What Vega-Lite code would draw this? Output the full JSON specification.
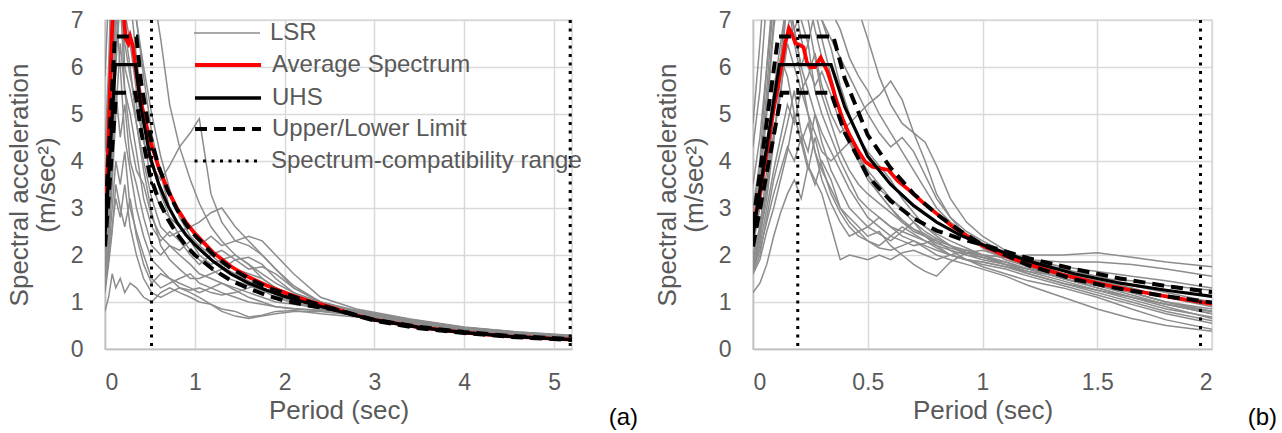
{
"$schema": "https://vega.github.io/schema/vega-lite/v6.json",
"background": "white",
"padding": {"left": 5, "top": 8, "right": 5, "bottom": 0},
"config": {
  "font": "Liberation Sans",
  "view": {"stroke": "#d9d9d9", "strokeWidth": 1.5},
  "axis": {"labelFont": "Liberation Sans", "labelFontSize": 23, "labelColor": "#595959", "titleFont": "Liberation Sans", "titleFontSize": 26, "titleFontWeight": "normal", "titleColor": "#595959", "gridColor": "#d9d9d9", "gridWidth": 1.5, "domainColor": "#bfbfbf", "domainWidth": 1.5, "ticks": false, "labelPadding": 22},
  "axisX": {"titlePadding": 3},
  "axisY": {"titlePadding": 11, "titleLineHeight": 27},
  "legend": {"orient": "none", "legendX": 88, "title": null, "symbolType": "stroke", "symbolSize": 4356, "labelFontSize": 24, "labelColor": "#595959", "labelFont": "Liberation Sans", "labelFontWeight": "normal", "labelOffset": 9, "labelLimit": 0, "clipHeight": 22, "padding": 0},
  "title": {"font": "Liberation Sans", "fontSize": 24, "fontWeight": "normal", "color": "#000000"}
},
"datasets": {
"lsrA": [
{"c":1,"T":0,"S":3},{"c":1,"T":0.04,"S":5.5},{"c":1,"T":0.08,"S":8},{"c":1,"T":0.12,"S":9},{"c":1,"T":0.17,"S":9},{"c":1,"T":0.22,"S":8.5},{"c":1,"T":0.28,"S":9},{"c":1,"T":0.35,"S":9.5},{"c":1,"T":0.43,"S":8.5},{"c":1,"T":0.52,"S":7.8},{"c":1,"T":0.62,"S":6.6},{"c":1,"T":0.72,"S":5.2},{"c":1,"T":0.83,"S":4.3},{"c":1,"T":0.95,"S":3.6},{"c":1,"T":1.05,"S":3.1},{"c":1,"T":1.18,"S":2.6},{"c":1,"T":1.3,"S":2.3},{"c":1,"T":1.45,"S":2},{"c":1,"T":1.6,"S":1.8},{"c":1,"T":1.75,"S":1.6},{"c":1,"T":1.9,"S":1.4},{"c":1,"T":2.1,"S":1.2},{"c":1,"T":2.4,"S":1},{"c":1,"T":2.8,"S":0.8},{"c":1,"T":3.4,"S":0.6},{"c":1,"T":4,"S":0.46},{"c":1,"T":4.6,"S":0.36},{"c":1,"T":5.2,"S":0.29},
{"c":2,"T":0,"S":2},{"c":2,"T":0.04,"S":3},{"c":2,"T":0.08,"S":4.5},{"c":2,"T":0.12,"S":6},{"c":2,"T":0.17,"S":7.5},{"c":2,"T":0.22,"S":6.5},{"c":2,"T":0.28,"S":5.8},{"c":2,"T":0.35,"S":5.2},{"c":2,"T":0.43,"S":4.4},{"c":2,"T":0.52,"S":3.9},{"c":2,"T":0.62,"S":3.6},{"c":2,"T":0.72,"S":3.9},{"c":2,"T":0.83,"S":4.3},{"c":2,"T":0.95,"S":4.6},{"c":2,"T":1.05,"S":4.9},{"c":2,"T":1.18,"S":3.3},{"c":2,"T":1.3,"S":2.7},{"c":2,"T":1.45,"S":2.3},{"c":2,"T":1.6,"S":2.2},{"c":2,"T":1.75,"S":2},{"c":2,"T":1.9,"S":1.7},{"c":2,"T":2.1,"S":1.3},{"c":2,"T":2.4,"S":1},{"c":2,"T":2.8,"S":0.82},{"c":2,"T":3.4,"S":0.62},{"c":2,"T":4,"S":0.44},{"c":2,"T":4.6,"S":0.33},{"c":2,"T":5.2,"S":0.26},
{"c":3,"T":0,"S":1.7},{"c":3,"T":0.04,"S":2.8},{"c":3,"T":0.08,"S":4.5},{"c":3,"T":0.12,"S":7.5},{"c":3,"T":0.17,"S":8},{"c":3,"T":0.22,"S":6},{"c":3,"T":0.28,"S":5.5},{"c":3,"T":0.35,"S":4.8},{"c":3,"T":0.43,"S":4},{"c":3,"T":0.52,"S":3.2},{"c":3,"T":0.62,"S":2.6},{"c":3,"T":0.72,"S":2.4},{"c":3,"T":0.83,"S":2.5},{"c":3,"T":0.95,"S":2.6},{"c":3,"T":1.05,"S":2.7},{"c":3,"T":1.18,"S":2.9},{"c":3,"T":1.3,"S":3},{"c":3,"T":1.45,"S":2.6},{"c":3,"T":1.6,"S":2.3},{"c":3,"T":1.75,"S":2},{"c":3,"T":1.9,"S":1.7},{"c":3,"T":2.1,"S":1.35},{"c":3,"T":2.4,"S":1},{"c":3,"T":2.8,"S":0.8},{"c":3,"T":3.4,"S":0.6},{"c":3,"T":4,"S":0.44},{"c":3,"T":4.6,"S":0.33},{"c":3,"T":5.2,"S":0.25},
{"c":4,"T":0,"S":1.5},{"c":4,"T":0.04,"S":2.2},{"c":4,"T":0.08,"S":3.5},{"c":4,"T":0.12,"S":5},{"c":4,"T":0.17,"S":6.5},{"c":4,"T":0.22,"S":5.5},{"c":4,"T":0.28,"S":4.5},{"c":4,"T":0.35,"S":3.8},{"c":4,"T":0.43,"S":3.5},{"c":4,"T":0.52,"S":2.8},{"c":4,"T":0.62,"S":2.4},{"c":4,"T":0.72,"S":2.2},{"c":4,"T":0.83,"S":2.1},{"c":4,"T":0.95,"S":2.3},{"c":4,"T":1.05,"S":2.2},{"c":4,"T":1.18,"S":2.4},{"c":4,"T":1.3,"S":2.2},{"c":4,"T":1.45,"S":2.3},{"c":4,"T":1.6,"S":2.4},{"c":4,"T":1.75,"S":2.3},{"c":4,"T":1.9,"S":2},{"c":4,"T":2.1,"S":1.6},{"c":4,"T":2.4,"S":1.1},{"c":4,"T":2.8,"S":0.85},{"c":4,"T":3.4,"S":0.64},{"c":4,"T":4,"S":0.47},{"c":4,"T":4.6,"S":0.36},{"c":4,"T":5.2,"S":0.28},
{"c":5,"T":0,"S":0.8},{"c":5,"T":0.04,"S":1.1},{"c":5,"T":0.08,"S":1.6},{"c":5,"T":0.12,"S":1.3},{"c":5,"T":0.17,"S":1.5},{"c":5,"T":0.22,"S":1.2},{"c":5,"T":0.28,"S":1.4},{"c":5,"T":0.35,"S":1.3},{"c":5,"T":0.43,"S":1.1},{"c":5,"T":0.52,"S":1},{"c":5,"T":0.62,"S":1.2},{"c":5,"T":0.72,"S":1.3},{"c":5,"T":0.83,"S":1.2},{"c":5,"T":0.95,"S":1.1},{"c":5,"T":1.05,"S":1},{"c":5,"T":1.18,"S":0.95},{"c":5,"T":1.3,"S":0.85},{"c":5,"T":1.45,"S":0.8},{"c":5,"T":1.6,"S":0.68},{"c":5,"T":1.75,"S":0.72},{"c":5,"T":1.9,"S":0.8},{"c":5,"T":2.1,"S":0.82},{"c":5,"T":2.4,"S":0.75},{"c":5,"T":2.8,"S":0.68},{"c":5,"T":3.4,"S":0.55},{"c":5,"T":4,"S":0.38},{"c":5,"T":4.6,"S":0.28},{"c":5,"T":5.2,"S":0.2},
{"c":6,"T":0,"S":1.2},{"c":6,"T":0.04,"S":1.8},{"c":6,"T":0.08,"S":2.5},{"c":6,"T":0.12,"S":3.5},{"c":6,"T":0.17,"S":3},{"c":6,"T":0.22,"S":2.6},{"c":6,"T":0.28,"S":3.2},{"c":6,"T":0.35,"S":2.4},{"c":6,"T":0.43,"S":1.8},{"c":6,"T":0.52,"S":1.4},{"c":6,"T":0.62,"S":1.6},{"c":6,"T":0.72,"S":1.5},{"c":6,"T":0.83,"S":1.3},{"c":6,"T":0.95,"S":1.2},{"c":6,"T":1.05,"S":1.1},{"c":6,"T":1.18,"S":0.95},{"c":6,"T":1.3,"S":0.8},{"c":6,"T":1.45,"S":0.7},{"c":6,"T":1.6,"S":0.65},{"c":6,"T":1.75,"S":0.7},{"c":6,"T":1.9,"S":0.75},{"c":6,"T":2.1,"S":0.8},{"c":6,"T":2.4,"S":0.8},{"c":6,"T":2.8,"S":0.72},{"c":6,"T":3.4,"S":0.56},{"c":6,"T":4,"S":0.4},{"c":6,"T":4.6,"S":0.29},{"c":6,"T":5.2,"S":0.21},
{"c":7,"T":0,"S":2.2},{"c":7,"T":0.04,"S":3.5},{"c":7,"T":0.08,"S":6},{"c":7,"T":0.12,"S":8},{"c":7,"T":0.17,"S":7.5},{"c":7,"T":0.22,"S":6.8},{"c":7,"T":0.28,"S":6},{"c":7,"T":0.35,"S":4.8},{"c":7,"T":0.43,"S":3.8},{"c":7,"T":0.52,"S":2.9},{"c":7,"T":0.62,"S":2.2},{"c":7,"T":0.72,"S":1.9},{"c":7,"T":0.83,"S":1.7},{"c":7,"T":0.95,"S":1.5},{"c":7,"T":1.05,"S":1.5},{"c":7,"T":1.18,"S":1.6},{"c":7,"T":1.3,"S":1.7},{"c":7,"T":1.45,"S":1.9},{"c":7,"T":1.6,"S":1.95},{"c":7,"T":1.75,"S":1.8},{"c":7,"T":1.9,"S":1.5},{"c":7,"T":2.1,"S":1.2},{"c":7,"T":2.4,"S":0.95},{"c":7,"T":2.8,"S":0.82},{"c":7,"T":3.4,"S":0.63},{"c":7,"T":4,"S":0.46},{"c":7,"T":4.6,"S":0.35},{"c":7,"T":5.2,"S":0.27},
{"c":8,"T":0,"S":1.8},{"c":8,"T":0.04,"S":2.6},{"c":8,"T":0.08,"S":3.8},{"c":8,"T":0.12,"S":5.5},{"c":8,"T":0.17,"S":4.5},{"c":8,"T":0.22,"S":5.2},{"c":8,"T":0.28,"S":4},{"c":8,"T":0.35,"S":3.5},{"c":8,"T":0.43,"S":2.8},{"c":8,"T":0.52,"S":2.2},{"c":8,"T":0.62,"S":2},{"c":8,"T":0.72,"S":2.2},{"c":8,"T":0.83,"S":2},{"c":8,"T":0.95,"S":1.8},{"c":8,"T":1.05,"S":1.6},{"c":8,"T":1.18,"S":1.5},{"c":8,"T":1.3,"S":1.4},{"c":8,"T":1.45,"S":1.3},{"c":8,"T":1.6,"S":1.2},{"c":8,"T":1.75,"S":1.1},{"c":8,"T":1.9,"S":1},{"c":8,"T":2.1,"S":0.95},{"c":8,"T":2.4,"S":0.88},{"c":8,"T":2.8,"S":0.75},{"c":8,"T":3.4,"S":0.58},{"c":8,"T":4,"S":0.42},{"c":8,"T":4.6,"S":0.31},{"c":8,"T":5.2,"S":0.23},
{"c":9,"T":0,"S":2.5},{"c":9,"T":0.04,"S":4},{"c":9,"T":0.08,"S":7.5},{"c":9,"T":0.12,"S":9},{"c":9,"T":0.17,"S":8},{"c":9,"T":0.22,"S":7.2},{"c":9,"T":0.28,"S":6.5},{"c":9,"T":0.35,"S":5.5},{"c":9,"T":0.43,"S":4.5},{"c":9,"T":0.52,"S":3.5},{"c":9,"T":0.62,"S":3},{"c":9,"T":0.72,"S":2.8},{"c":9,"T":0.83,"S":2.6},{"c":9,"T":0.95,"S":2.3},{"c":9,"T":1.05,"S":2},{"c":9,"T":1.18,"S":1.8},{"c":9,"T":1.3,"S":1.9},{"c":9,"T":1.45,"S":2},{"c":9,"T":1.6,"S":1.8},{"c":9,"T":1.75,"S":1.5},{"c":9,"T":1.9,"S":1.3},{"c":9,"T":2.1,"S":1.1},{"c":9,"T":2.4,"S":0.9},{"c":9,"T":2.8,"S":0.78},{"c":9,"T":3.4,"S":0.6},{"c":9,"T":4,"S":0.45},{"c":9,"T":4.6,"S":0.34},{"c":9,"T":5.2,"S":0.26},
{"c":10,"T":0,"S":1.3},{"c":10,"T":0.04,"S":2},{"c":10,"T":0.08,"S":3},{"c":10,"T":0.12,"S":4},{"c":10,"T":0.17,"S":3.5},{"c":10,"T":0.22,"S":4.2},{"c":10,"T":0.28,"S":3},{"c":10,"T":0.35,"S":2.5},{"c":10,"T":0.43,"S":2},{"c":10,"T":0.52,"S":1.5},{"c":10,"T":0.62,"S":1.3},{"c":10,"T":0.72,"S":1.4},{"c":10,"T":0.83,"S":1.5},{"c":10,"T":0.95,"S":1.6},{"c":10,"T":1.05,"S":1.4},{"c":10,"T":1.18,"S":1.3},{"c":10,"T":1.3,"S":1.2},{"c":10,"T":1.45,"S":1.1},{"c":10,"T":1.6,"S":1},{"c":10,"T":1.75,"S":0.95},{"c":10,"T":1.9,"S":0.9},{"c":10,"T":2.1,"S":0.85},{"c":10,"T":2.4,"S":0.82},{"c":10,"T":2.8,"S":0.72},{"c":10,"T":3.4,"S":0.55},{"c":10,"T":4,"S":0.4},{"c":10,"T":4.6,"S":0.3},{"c":10,"T":5.2,"S":0.22},
{"c":11,"T":0,"S":4.2},{"c":11,"T":0.04,"S":6},{"c":11,"T":0.08,"S":8.5},{"c":11,"T":0.12,"S":9},{"c":11,"T":0.17,"S":10},{"c":11,"T":0.22,"S":9},{"c":11,"T":0.28,"S":8},{"c":11,"T":0.35,"S":7},{"c":11,"T":0.43,"S":5.8},{"c":11,"T":0.52,"S":4.6},{"c":11,"T":0.62,"S":3.7},{"c":11,"T":0.72,"S":3},{"c":11,"T":0.83,"S":2.6},{"c":11,"T":0.95,"S":2.3},{"c":11,"T":1.05,"S":2.1},{"c":11,"T":1.18,"S":1.9},{"c":11,"T":1.3,"S":1.75},{"c":11,"T":1.45,"S":1.6},{"c":11,"T":1.6,"S":1.45},{"c":11,"T":1.75,"S":1.3},{"c":11,"T":1.9,"S":1.15},{"c":11,"T":2.1,"S":1},{"c":11,"T":2.4,"S":0.85},{"c":11,"T":2.8,"S":0.72},{"c":11,"T":3.4,"S":0.56},{"c":11,"T":4,"S":0.42},{"c":11,"T":4.6,"S":0.32},{"c":11,"T":5.2,"S":0.24},
{"c":12,"T":0,"S":1.6},{"c":12,"T":0.04,"S":2.4},{"c":12,"T":0.08,"S":4},{"c":12,"T":0.12,"S":6.5},{"c":12,"T":0.17,"S":7.5},{"c":12,"T":0.22,"S":5.5},{"c":12,"T":0.28,"S":5},{"c":12,"T":0.35,"S":4.2},{"c":12,"T":0.43,"S":3.2},{"c":12,"T":0.52,"S":2.6},{"c":12,"T":0.62,"S":2.3},{"c":12,"T":0.72,"S":2.5},{"c":12,"T":0.83,"S":2.3},{"c":12,"T":0.95,"S":2},{"c":12,"T":1.05,"S":1.8},{"c":12,"T":1.18,"S":2},{"c":12,"T":1.3,"S":2.1},{"c":12,"T":1.45,"S":1.9},{"c":12,"T":1.6,"S":1.7},{"c":12,"T":1.75,"S":1.75},{"c":12,"T":1.9,"S":1.6},{"c":12,"T":2.1,"S":1.3},{"c":12,"T":2.4,"S":1},{"c":12,"T":2.8,"S":0.8},{"c":12,"T":3.4,"S":0.62},{"c":12,"T":4,"S":0.46},{"c":12,"T":4.6,"S":0.35},{"c":12,"T":5.2,"S":0.27},
{"c":13,"T":0,"S":2},{"c":13,"T":0.04,"S":3.2},{"c":13,"T":0.08,"S":5},{"c":13,"T":0.12,"S":7.2},{"c":13,"T":0.17,"S":6},{"c":13,"T":0.22,"S":4.5},{"c":13,"T":0.28,"S":3.8},{"c":13,"T":0.35,"S":3},{"c":13,"T":0.43,"S":2.4},{"c":13,"T":0.52,"S":1.9},{"c":13,"T":0.62,"S":1.7},{"c":13,"T":0.72,"S":1.5},{"c":13,"T":0.83,"S":1.4},{"c":13,"T":0.95,"S":1.3},{"c":13,"T":1.05,"S":1.2},{"c":13,"T":1.18,"S":1.3},{"c":13,"T":1.3,"S":1.4},{"c":13,"T":1.45,"S":1.25},{"c":13,"T":1.6,"S":1.1},{"c":13,"T":1.75,"S":1},{"c":13,"T":1.9,"S":0.9},{"c":13,"T":2.1,"S":0.86},{"c":13,"T":2.4,"S":0.82},{"c":13,"T":2.8,"S":0.74},{"c":13,"T":3.4,"S":0.57},{"c":13,"T":4,"S":0.41},{"c":13,"T":4.6,"S":0.3},{"c":13,"T":5.2,"S":0.22},
{"c":14,"T":0,"S":3},{"c":14,"T":0.04,"S":4.5},{"c":14,"T":0.08,"S":7.5},{"c":14,"T":0.12,"S":8.5},{"c":14,"T":0.17,"S":9},{"c":14,"T":0.22,"S":10},{"c":14,"T":0.28,"S":8.5},{"c":14,"T":0.35,"S":7},{"c":14,"T":0.43,"S":6},{"c":14,"T":0.52,"S":5},{"c":14,"T":0.62,"S":4.1},{"c":14,"T":0.72,"S":3.4},{"c":14,"T":0.83,"S":2.8},{"c":14,"T":0.95,"S":2.4},{"c":14,"T":1.05,"S":2.2},{"c":14,"T":1.18,"S":2},{"c":14,"T":1.3,"S":1.8},{"c":14,"T":1.45,"S":1.7},{"c":14,"T":1.6,"S":1.6},{"c":14,"T":1.75,"S":1.5},{"c":14,"T":1.9,"S":1.3},{"c":14,"T":2.1,"S":1.15},{"c":14,"T":2.4,"S":0.92},{"c":14,"T":2.8,"S":0.78},{"c":14,"T":3.4,"S":0.6},{"c":14,"T":4,"S":0.45},{"c":14,"T":4.6,"S":0.34},{"c":14,"T":5.2,"S":0.26},
{"c":15,"T":0,"S":1.5},{"c":15,"T":0.04,"S":1.9},{"c":15,"T":0.08,"S":2.6},{"c":15,"T":0.12,"S":3.2},{"c":15,"T":0.17,"S":2.8},{"c":15,"T":0.22,"S":3.5},{"c":15,"T":0.28,"S":2.6},{"c":15,"T":0.35,"S":2},{"c":15,"T":0.43,"S":1.5},{"c":15,"T":0.52,"S":1.2},{"c":15,"T":0.62,"S":1.1},{"c":15,"T":0.72,"S":1.2},{"c":15,"T":0.83,"S":1.3},{"c":15,"T":0.95,"S":1.25},{"c":15,"T":1.05,"S":1.3},{"c":15,"T":1.18,"S":1.2},{"c":15,"T":1.3,"S":1.15},{"c":15,"T":1.45,"S":1.2},{"c":15,"T":1.6,"S":1.3},{"c":15,"T":1.75,"S":1.4},{"c":15,"T":1.9,"S":1.3},{"c":15,"T":2.1,"S":1.1},{"c":15,"T":2.4,"S":0.9},{"c":15,"T":2.8,"S":0.76},{"c":15,"T":3.4,"S":0.58},{"c":15,"T":4,"S":0.43},{"c":15,"T":4.6,"S":0.32},{"c":15,"T":5.2,"S":0.24},
{"c":16,"T":0,"S":5.8},{"c":16,"T":0.04,"S":7.5},{"c":16,"T":0.08,"S":9},{"c":16,"T":0.12,"S":8},{"c":16,"T":0.17,"S":9},{"c":16,"T":0.22,"S":8.5},{"c":16,"T":0.28,"S":7.5},{"c":16,"T":0.35,"S":6.2},{"c":16,"T":0.43,"S":5},{"c":16,"T":0.52,"S":4},{"c":16,"T":0.62,"S":3.3},{"c":16,"T":0.72,"S":2.8},{"c":16,"T":0.83,"S":2.4},{"c":16,"T":0.95,"S":2.1},{"c":16,"T":1.05,"S":1.9},{"c":16,"T":1.18,"S":1.7},{"c":16,"T":1.3,"S":1.55},{"c":16,"T":1.45,"S":1.45},{"c":16,"T":1.6,"S":1.35},{"c":16,"T":1.75,"S":1.25},{"c":16,"T":1.9,"S":1.1},{"c":16,"T":2.1,"S":0.98},{"c":16,"T":2.4,"S":0.85},{"c":16,"T":2.8,"S":0.74},{"c":16,"T":3.4,"S":0.58},{"c":16,"T":4,"S":0.44},{"c":16,"T":4.6,"S":0.33},{"c":16,"T":5.2,"S":0.25}
],
"lsrB": [
{"c":1,"T":0,"S":4.8},{"c":1,"T":0.03,"S":6.5},{"c":1,"T":0.06,"S":8.5},{"c":1,"T":0.09,"S":9},{"c":1,"T":0.12,"S":10},{"c":1,"T":0.15,"S":9},{"c":1,"T":0.18,"S":8},{"c":1,"T":0.21,"S":8.5},{"c":1,"T":0.24,"S":9},{"c":1,"T":0.27,"S":8},{"c":1,"T":0.3,"S":7.5},{"c":1,"T":0.34,"S":7.2},{"c":1,"T":0.38,"S":6.8},{"c":1,"T":0.42,"S":6.2},{"c":1,"T":0.46,"S":5.8},{"c":1,"T":0.5,"S":5.5},{"c":1,"T":0.55,"S":5},{"c":1,"T":0.6,"S":4.6},{"c":1,"T":0.65,"S":4.2},{"c":1,"T":0.7,"S":3.8},{"c":1,"T":0.75,"S":3.4},{"c":1,"T":0.8,"S":3},{"c":1,"T":0.86,"S":2.7},{"c":1,"T":0.93,"S":2.45},{"c":1,"T":1,"S":2.25},{"c":1,"T":1.1,"S":2.05},{"c":1,"T":1.2,"S":1.9},{"c":1,"T":1.35,"S":1.7},{"c":1,"T":1.5,"S":1.55},{"c":1,"T":1.65,"S":1.35},{"c":1,"T":1.8,"S":1.2},{"c":1,"T":2,"S":1},
{"c":2,"T":0,"S":1.2},{"c":2,"T":0.03,"S":1.4},{"c":2,"T":0.06,"S":1.8},{"c":2,"T":0.09,"S":2.4},{"c":2,"T":0.12,"S":2.9},{"c":2,"T":0.15,"S":3.3},{"c":2,"T":0.18,"S":3.6},{"c":2,"T":0.21,"S":3.2},{"c":2,"T":0.24,"S":3.9},{"c":2,"T":0.27,"S":3.6},{"c":2,"T":0.3,"S":3.3},{"c":2,"T":0.34,"S":2.6},{"c":2,"T":0.38,"S":1.9},{"c":2,"T":0.42,"S":2},{"c":2,"T":0.46,"S":1.95},{"c":2,"T":0.5,"S":1.9},{"c":2,"T":0.55,"S":2},{"c":2,"T":0.6,"S":1.9},{"c":2,"T":0.65,"S":2.05},{"c":2,"T":0.7,"S":2.1},{"c":2,"T":0.75,"S":2},{"c":2,"T":0.8,"S":1.9},{"c":2,"T":0.86,"S":2},{"c":2,"T":0.93,"S":2.1},{"c":2,"T":1,"S":2},{"c":2,"T":1.1,"S":1.85},{"c":2,"T":1.2,"S":1.7},{"c":2,"T":1.35,"S":1.5},{"c":2,"T":1.5,"S":1.35},{"c":2,"T":1.65,"S":1.2},{"c":2,"T":1.8,"S":1},{"c":2,"T":2,"S":0.8},
{"c":3,"T":0,"S":1.7},{"c":3,"T":0.03,"S":2.2},{"c":3,"T":0.06,"S":3},{"c":3,"T":0.09,"S":3.8},{"c":3,"T":0.12,"S":4.5},{"c":3,"T":0.15,"S":5.2},{"c":3,"T":0.18,"S":4.8},{"c":3,"T":0.21,"S":5.5},{"c":3,"T":0.24,"S":5},{"c":3,"T":0.27,"S":4.2},{"c":3,"T":0.3,"S":3.8},{"c":3,"T":0.34,"S":3.4},{"c":3,"T":0.38,"S":3},{"c":3,"T":0.42,"S":2.8},{"c":3,"T":0.46,"S":2.6},{"c":3,"T":0.5,"S":2.4},{"c":3,"T":0.55,"S":2.5},{"c":3,"T":0.6,"S":2.2},{"c":3,"T":0.65,"S":2},{"c":3,"T":0.7,"S":1.8},{"c":3,"T":0.75,"S":1.65},{"c":3,"T":0.8,"S":1.55},{"c":3,"T":0.86,"S":1.85},{"c":3,"T":0.93,"S":2.05},{"c":3,"T":1,"S":2.1},{"c":3,"T":1.1,"S":1.95},{"c":3,"T":1.2,"S":1.75},{"c":3,"T":1.35,"S":1.5},{"c":3,"T":1.5,"S":1.3},{"c":3,"T":1.65,"S":1.1},{"c":3,"T":1.8,"S":0.95},{"c":3,"T":2,"S":0.75},
{"c":4,"T":0,"S":2},{"c":4,"T":0.03,"S":2.6},{"c":4,"T":0.06,"S":3.5},{"c":4,"T":0.09,"S":4.5},{"c":4,"T":0.12,"S":5.5},{"c":4,"T":0.15,"S":6.5},{"c":4,"T":0.18,"S":6},{"c":4,"T":0.21,"S":5.5},{"c":4,"T":0.24,"S":5.8},{"c":4,"T":0.27,"S":6.3},{"c":4,"T":0.3,"S":5.6},{"c":4,"T":0.34,"S":5},{"c":4,"T":0.38,"S":4.6},{"c":4,"T":0.42,"S":4.8},{"c":4,"T":0.46,"S":5},{"c":4,"T":0.5,"S":5.2},{"c":4,"T":0.55,"S":5.4},{"c":4,"T":0.6,"S":5.7},{"c":4,"T":0.65,"S":5.3},{"c":4,"T":0.7,"S":4.6},{"c":4,"T":0.75,"S":4},{"c":4,"T":0.8,"S":3.3},{"c":4,"T":0.86,"S":2.8},{"c":4,"T":0.93,"S":2.4},{"c":4,"T":1,"S":2.15},{"c":4,"T":1.1,"S":1.9},{"c":4,"T":1.2,"S":1.75},{"c":4,"T":1.35,"S":1.55},{"c":4,"T":1.5,"S":1.35},{"c":4,"T":1.65,"S":1.15},{"c":4,"T":1.8,"S":0.95},{"c":4,"T":2,"S":0.75},
{"c":5,"T":0,"S":3},{"c":5,"T":0.03,"S":4},{"c":5,"T":0.06,"S":6},{"c":5,"T":0.09,"S":7.5},{"c":5,"T":0.12,"S":9},{"c":5,"T":0.15,"S":8.5},{"c":5,"T":0.18,"S":9},{"c":5,"T":0.21,"S":10},{"c":5,"T":0.24,"S":9.5},{"c":5,"T":0.27,"S":9},{"c":5,"T":0.3,"S":8.5},{"c":5,"T":0.34,"S":8},{"c":5,"T":0.38,"S":7.8},{"c":5,"T":0.42,"S":7.5},{"c":5,"T":0.46,"S":7.2},{"c":5,"T":0.5,"S":6.6},{"c":5,"T":0.55,"S":5.8},{"c":5,"T":0.6,"S":5.2},{"c":5,"T":0.65,"S":4.8},{"c":5,"T":0.7,"S":4.6},{"c":5,"T":0.75,"S":4.4},{"c":5,"T":0.8,"S":3.9},{"c":5,"T":0.86,"S":3.2},{"c":5,"T":0.93,"S":2.7},{"c":5,"T":1,"S":2.4},{"c":5,"T":1.1,"S":2.1},{"c":5,"T":1.2,"S":1.9},{"c":5,"T":1.35,"S":1.75},{"c":5,"T":1.5,"S":1.65},{"c":5,"T":1.65,"S":1.55},{"c":5,"T":1.8,"S":1.45},{"c":5,"T":2,"S":1.3},
{"c":6,"T":0,"S":1.75},{"c":6,"T":0.03,"S":2.3},{"c":6,"T":0.06,"S":3.5},{"c":6,"T":0.09,"S":5},{"c":6,"T":0.12,"S":6.2},{"c":6,"T":0.15,"S":7.5},{"c":6,"T":0.18,"S":8},{"c":6,"T":0.21,"S":7},{"c":6,"T":0.24,"S":6.5},{"c":6,"T":0.27,"S":5.5},{"c":6,"T":0.3,"S":5},{"c":6,"T":0.34,"S":4.5},{"c":6,"T":0.38,"S":4},{"c":6,"T":0.42,"S":3.6},{"c":6,"T":0.46,"S":3.2},{"c":6,"T":0.5,"S":3},{"c":6,"T":0.55,"S":2.8},{"c":6,"T":0.6,"S":2.6},{"c":6,"T":0.65,"S":2.5},{"c":6,"T":0.7,"S":2.4},{"c":6,"T":0.75,"S":2.3},{"c":6,"T":0.8,"S":2.2},{"c":6,"T":0.86,"S":2.1},{"c":6,"T":0.93,"S":2},{"c":6,"T":1,"S":1.95},{"c":6,"T":1.1,"S":1.85},{"c":6,"T":1.2,"S":1.7},{"c":6,"T":1.35,"S":1.5},{"c":6,"T":1.5,"S":1.3},{"c":6,"T":1.65,"S":1.1},{"c":6,"T":1.8,"S":0.9},{"c":6,"T":2,"S":0.65},
{"c":7,"T":0,"S":1.65},{"c":7,"T":0.03,"S":2},{"c":7,"T":0.06,"S":2.8},{"c":7,"T":0.09,"S":3.6},{"c":7,"T":0.12,"S":4.2},{"c":7,"T":0.15,"S":4.8},{"c":7,"T":0.18,"S":5.5},{"c":7,"T":0.21,"S":4.6},{"c":7,"T":0.24,"S":4.2},{"c":7,"T":0.27,"S":5},{"c":7,"T":0.3,"S":4.4},{"c":7,"T":0.34,"S":3.8},{"c":7,"T":0.38,"S":3.4},{"c":7,"T":0.42,"S":3},{"c":7,"T":0.46,"S":2.8},{"c":7,"T":0.5,"S":2.6},{"c":7,"T":0.55,"S":2.45},{"c":7,"T":0.6,"S":2.3},{"c":7,"T":0.65,"S":2.5},{"c":7,"T":0.7,"S":2.7},{"c":7,"T":0.75,"S":2.4},{"c":7,"T":0.8,"S":2.2},{"c":7,"T":0.86,"S":2},{"c":7,"T":0.93,"S":1.9},{"c":7,"T":1,"S":1.8},{"c":7,"T":1.1,"S":1.7},{"c":7,"T":1.2,"S":1.55},{"c":7,"T":1.35,"S":1.35},{"c":7,"T":1.5,"S":1.15},{"c":7,"T":1.65,"S":0.95},{"c":7,"T":1.8,"S":0.75},{"c":7,"T":2,"S":0.55},
{"c":8,"T":0,"S":2.5},{"c":8,"T":0.03,"S":3.5},{"c":8,"T":0.06,"S":5},{"c":8,"T":0.09,"S":6.8},{"c":8,"T":0.12,"S":8},{"c":8,"T":0.15,"S":7.5},{"c":8,"T":0.18,"S":6.8},{"c":8,"T":0.21,"S":7.2},{"c":8,"T":0.24,"S":8.5},{"c":8,"T":0.27,"S":7.8},{"c":8,"T":0.3,"S":7},{"c":8,"T":0.34,"S":6.4},{"c":8,"T":0.38,"S":5.6},{"c":8,"T":0.42,"S":5},{"c":8,"T":0.46,"S":4.5},{"c":8,"T":0.5,"S":4.2},{"c":8,"T":0.55,"S":3.9},{"c":8,"T":0.6,"S":3.6},{"c":8,"T":0.65,"S":3.2},{"c":8,"T":0.7,"S":2.9},{"c":8,"T":0.75,"S":2.6},{"c":8,"T":0.8,"S":2.4},{"c":8,"T":0.86,"S":2.2},{"c":8,"T":0.93,"S":2.05},{"c":8,"T":1,"S":1.95},{"c":8,"T":1.1,"S":1.8},{"c":8,"T":1.2,"S":1.7},{"c":8,"T":1.35,"S":1.6},{"c":8,"T":1.5,"S":1.45},{"c":8,"T":1.65,"S":1.3},{"c":8,"T":1.8,"S":1.1},{"c":8,"T":2,"S":0.9},
{"c":9,"T":0,"S":1.8},{"c":9,"T":0.03,"S":2.4},{"c":9,"T":0.06,"S":3.2},{"c":9,"T":0.09,"S":4.4},{"c":9,"T":0.12,"S":5.8},{"c":9,"T":0.15,"S":7.5},{"c":9,"T":0.18,"S":6.5},{"c":9,"T":0.21,"S":5.8},{"c":9,"T":0.24,"S":5},{"c":9,"T":0.27,"S":4.6},{"c":9,"T":0.3,"S":4.2},{"c":9,"T":0.34,"S":4},{"c":9,"T":0.38,"S":4.2},{"c":9,"T":0.42,"S":4.4},{"c":9,"T":0.46,"S":4.1},{"c":9,"T":0.5,"S":3.7},{"c":9,"T":0.55,"S":3.3},{"c":9,"T":0.6,"S":3},{"c":9,"T":0.65,"S":2.7},{"c":9,"T":0.7,"S":2.5},{"c":9,"T":0.75,"S":2.4},{"c":9,"T":0.8,"S":2.3},{"c":9,"T":0.86,"S":2.1},{"c":9,"T":0.93,"S":1.9},{"c":9,"T":1,"S":1.75},{"c":9,"T":1.1,"S":1.6},{"c":9,"T":1.2,"S":1.45},{"c":9,"T":1.35,"S":1.3},{"c":9,"T":1.5,"S":1.1},{"c":9,"T":1.65,"S":0.85},{"c":9,"T":1.8,"S":0.62},{"c":9,"T":2,"S":0.42},
{"c":10,"T":0,"S":4.3},{"c":10,"T":0.03,"S":5.5},{"c":10,"T":0.06,"S":7.5},{"c":10,"T":0.09,"S":9},{"c":10,"T":0.12,"S":8.5},{"c":10,"T":0.15,"S":9.5},{"c":10,"T":0.18,"S":10},{"c":10,"T":0.21,"S":9},{"c":10,"T":0.24,"S":8},{"c":10,"T":0.27,"S":7.5},{"c":10,"T":0.3,"S":7},{"c":10,"T":0.34,"S":6.6},{"c":10,"T":0.38,"S":6.2},{"c":10,"T":0.42,"S":5.8},{"c":10,"T":0.46,"S":5.4},{"c":10,"T":0.5,"S":5},{"c":10,"T":0.55,"S":4.6},{"c":10,"T":0.6,"S":4.3},{"c":10,"T":0.65,"S":4.5},{"c":10,"T":0.7,"S":4.2},{"c":10,"T":0.75,"S":3.7},{"c":10,"T":0.8,"S":3.2},{"c":10,"T":0.86,"S":2.8},{"c":10,"T":0.93,"S":2.5},{"c":10,"T":1,"S":2.3},{"c":10,"T":1.1,"S":2.05},{"c":10,"T":1.2,"S":1.85},{"c":10,"T":1.35,"S":1.6},{"c":10,"T":1.5,"S":1.4},{"c":10,"T":1.65,"S":1.2},{"c":10,"T":1.8,"S":1},{"c":10,"T":2,"S":0.8},
{"c":11,"T":0,"S":3.5},{"c":11,"T":0.03,"S":4.5},{"c":11,"T":0.06,"S":6},{"c":11,"T":0.09,"S":7.8},{"c":11,"T":0.12,"S":8.5},{"c":11,"T":0.15,"S":7.5},{"c":11,"T":0.18,"S":6.8},{"c":11,"T":0.21,"S":6},{"c":11,"T":0.24,"S":5.5},{"c":11,"T":0.27,"S":5},{"c":11,"T":0.3,"S":4.6},{"c":11,"T":0.34,"S":4.2},{"c":11,"T":0.38,"S":3.8},{"c":11,"T":0.42,"S":3.4},{"c":11,"T":0.46,"S":3.1},{"c":11,"T":0.5,"S":2.8},{"c":11,"T":0.55,"S":2.6},{"c":11,"T":0.6,"S":2.4},{"c":11,"T":0.65,"S":2.3},{"c":11,"T":0.7,"S":2.2},{"c":11,"T":0.75,"S":2.25},{"c":11,"T":0.8,"S":2.35},{"c":11,"T":0.86,"S":2.2},{"c":11,"T":0.93,"S":2},{"c":11,"T":1,"S":1.9},{"c":11,"T":1.1,"S":1.8},{"c":11,"T":1.2,"S":1.7},{"c":11,"T":1.35,"S":1.6},{"c":11,"T":1.5,"S":1.5},{"c":11,"T":1.65,"S":1.45},{"c":11,"T":1.8,"S":1.35},{"c":11,"T":2,"S":1.25},
{"c":12,"T":0,"S":2.2},{"c":12,"T":0.03,"S":3},{"c":12,"T":0.06,"S":4.2},{"c":12,"T":0.09,"S":5.5},{"c":12,"T":0.12,"S":6.5},{"c":12,"T":0.15,"S":7.5},{"c":12,"T":0.18,"S":6.8},{"c":12,"T":0.21,"S":6},{"c":12,"T":0.24,"S":6.5},{"c":12,"T":0.27,"S":7.2},{"c":12,"T":0.3,"S":6.6},{"c":12,"T":0.34,"S":5.8},{"c":12,"T":0.38,"S":5},{"c":12,"T":0.42,"S":4.5},{"c":12,"T":0.46,"S":4},{"c":12,"T":0.5,"S":3.6},{"c":12,"T":0.55,"S":3.3},{"c":12,"T":0.6,"S":3},{"c":12,"T":0.65,"S":2.75},{"c":12,"T":0.7,"S":2.55},{"c":12,"T":0.75,"S":2.4},{"c":12,"T":0.8,"S":2.25},{"c":12,"T":0.86,"S":2.15},{"c":12,"T":0.93,"S":2.05},{"c":12,"T":1,"S":2},{"c":12,"T":1.1,"S":1.95},{"c":12,"T":1.2,"S":2},{"c":12,"T":1.35,"S":2},{"c":12,"T":1.5,"S":2.05},{"c":12,"T":1.65,"S":1.95},{"c":12,"T":1.8,"S":1.85},{"c":12,"T":2,"S":1.75},
{"c":13,"T":0,"S":1.7},{"c":13,"T":0.03,"S":2.1},{"c":13,"T":0.06,"S":2.7},{"c":13,"T":0.09,"S":3.3},{"c":13,"T":0.12,"S":3.8},{"c":13,"T":0.15,"S":4.3},{"c":13,"T":0.18,"S":4},{"c":13,"T":0.21,"S":4.5},{"c":13,"T":0.24,"S":3.9},{"c":13,"T":0.27,"S":3.5},{"c":13,"T":0.3,"S":4},{"c":13,"T":0.34,"S":3.6},{"c":13,"T":0.38,"S":3},{"c":13,"T":0.42,"S":2.7},{"c":13,"T":0.46,"S":2.5},{"c":13,"T":0.5,"S":2.6},{"c":13,"T":0.55,"S":2.8},{"c":13,"T":0.6,"S":2.6},{"c":13,"T":0.65,"S":2.4},{"c":13,"T":0.7,"S":2.3},{"c":13,"T":0.75,"S":2.2},{"c":13,"T":0.8,"S":2.1},{"c":13,"T":0.86,"S":2},{"c":13,"T":0.93,"S":1.9},{"c":13,"T":1,"S":1.85},{"c":13,"T":1.1,"S":1.75},{"c":13,"T":1.2,"S":1.6},{"c":13,"T":1.35,"S":1.4},{"c":13,"T":1.5,"S":1.2},{"c":13,"T":1.65,"S":1},{"c":13,"T":1.8,"S":0.8},{"c":13,"T":2,"S":0.6},
{"c":14,"T":0,"S":2.7},{"c":14,"T":0.03,"S":3.6},{"c":14,"T":0.06,"S":5.2},{"c":14,"T":0.09,"S":7},{"c":14,"T":0.12,"S":8.5},{"c":14,"T":0.15,"S":8},{"c":14,"T":0.18,"S":7.4},{"c":14,"T":0.21,"S":6.6},{"c":14,"T":0.24,"S":6},{"c":14,"T":0.27,"S":5.6},{"c":14,"T":0.3,"S":5.9},{"c":14,"T":0.34,"S":5.4},{"c":14,"T":0.38,"S":4.8},{"c":14,"T":0.42,"S":4.4},{"c":14,"T":0.46,"S":4},{"c":14,"T":0.5,"S":3.7},{"c":14,"T":0.55,"S":3.4},{"c":14,"T":0.6,"S":3.2},{"c":14,"T":0.65,"S":3},{"c":14,"T":0.7,"S":2.8},{"c":14,"T":0.75,"S":2.6},{"c":14,"T":0.8,"S":2.45},{"c":14,"T":0.86,"S":2.3},{"c":14,"T":0.93,"S":2.15},{"c":14,"T":1,"S":2},{"c":14,"T":1.1,"S":1.8},{"c":14,"T":1.2,"S":1.6},{"c":14,"T":1.35,"S":1.4},{"c":14,"T":1.5,"S":1.25},{"c":14,"T":1.65,"S":1.1},{"c":14,"T":1.8,"S":0.95},{"c":14,"T":2,"S":0.8},
{"c":15,"T":0,"S":1.9},{"c":15,"T":0.03,"S":2.6},{"c":15,"T":0.06,"S":3.8},{"c":15,"T":0.09,"S":5.2},{"c":15,"T":0.12,"S":6.2},{"c":15,"T":0.15,"S":5.8},{"c":15,"T":0.18,"S":5},{"c":15,"T":0.21,"S":4.4},{"c":15,"T":0.24,"S":4.8},{"c":15,"T":0.27,"S":4.2},{"c":15,"T":0.3,"S":3.6},{"c":15,"T":0.34,"S":3.1},{"c":15,"T":0.38,"S":2.7},{"c":15,"T":0.42,"S":2.4},{"c":15,"T":0.46,"S":2.5},{"c":15,"T":0.5,"S":2.3},{"c":15,"T":0.55,"S":2.2},{"c":15,"T":0.6,"S":2.4},{"c":15,"T":0.65,"S":2.6},{"c":15,"T":0.7,"S":2.45},{"c":15,"T":0.75,"S":2.3},{"c":15,"T":0.8,"S":2.15},{"c":15,"T":0.86,"S":2},{"c":15,"T":0.93,"S":1.9},{"c":15,"T":1,"S":1.85},{"c":15,"T":1.1,"S":1.75},{"c":15,"T":1.2,"S":1.65},{"c":15,"T":1.35,"S":1.55},{"c":15,"T":1.5,"S":1.4},{"c":15,"T":1.65,"S":1.2},{"c":15,"T":1.8,"S":1},{"c":15,"T":2,"S":0.85},
{"c":16,"T":0,"S":1.75},{"c":16,"T":0.03,"S":2.5},{"c":16,"T":0.06,"S":3.4},{"c":16,"T":0.09,"S":4.6},{"c":16,"T":0.12,"S":5.4},{"c":16,"T":0.15,"S":6.8},{"c":16,"T":0.18,"S":7.5},{"c":16,"T":0.21,"S":8},{"c":16,"T":0.24,"S":7},{"c":16,"T":0.27,"S":6.2},{"c":16,"T":0.3,"S":5.4},{"c":16,"T":0.34,"S":4.8},{"c":16,"T":0.38,"S":4.2},{"c":16,"T":0.42,"S":3.8},{"c":16,"T":0.46,"S":3.5},{"c":16,"T":0.5,"S":3.3},{"c":16,"T":0.55,"S":3.1},{"c":16,"T":0.6,"S":2.9},{"c":16,"T":0.65,"S":2.7},{"c":16,"T":0.7,"S":2.55},{"c":16,"T":0.75,"S":2.45},{"c":16,"T":0.8,"S":2.3},{"c":16,"T":0.86,"S":2.2},{"c":16,"T":0.93,"S":2.1},{"c":16,"T":1,"S":2},{"c":16,"T":1.1,"S":1.95},{"c":16,"T":1.2,"S":1.9},{"c":16,"T":1.35,"S":1.85},{"c":16,"T":1.5,"S":1.85},{"c":16,"T":1.65,"S":1.8},{"c":16,"T":1.8,"S":1.7},{"c":16,"T":2,"S":1.55},
{"c":17,"T":0,"S":1.6},{"c":17,"T":0.03,"S":1.9},{"c":17,"T":0.06,"S":2.5},{"c":17,"T":0.09,"S":3},{"c":17,"T":0.12,"S":3.6},{"c":17,"T":0.15,"S":4.2},{"c":17,"T":0.18,"S":5},{"c":17,"T":0.21,"S":4.4},{"c":17,"T":0.24,"S":3.8},{"c":17,"T":0.27,"S":4.5},{"c":17,"T":0.3,"S":3.9},{"c":17,"T":0.34,"S":3.3},{"c":17,"T":0.38,"S":2.9},{"c":17,"T":0.42,"S":2.6},{"c":17,"T":0.46,"S":2.4},{"c":17,"T":0.5,"S":2.3},{"c":17,"T":0.55,"S":2.15},{"c":17,"T":0.6,"S":2.1},{"c":17,"T":0.65,"S":2.2},{"c":17,"T":0.7,"S":2.3},{"c":17,"T":0.75,"S":2.15},{"c":17,"T":0.8,"S":2},{"c":17,"T":0.86,"S":1.9},{"c":17,"T":0.93,"S":1.8},{"c":17,"T":1,"S":1.7},{"c":17,"T":1.1,"S":1.55},{"c":17,"T":1.2,"S":1.35},{"c":17,"T":1.35,"S":1.1},{"c":17,"T":1.5,"S":0.85},{"c":17,"T":1.65,"S":0.65},{"c":17,"T":1.8,"S":0.5},{"c":17,"T":2,"S":0.38},
{"c":18,"T":0,"S":2.9},{"c":18,"T":0.03,"S":3.8},{"c":18,"T":0.06,"S":5.5},{"c":18,"T":0.09,"S":7.5},{"c":18,"T":0.12,"S":9.5},{"c":18,"T":0.15,"S":10},{"c":18,"T":0.18,"S":9},{"c":18,"T":0.21,"S":8.5},{"c":18,"T":0.24,"S":7.5},{"c":18,"T":0.27,"S":6.8},{"c":18,"T":0.3,"S":6.2},{"c":18,"T":0.34,"S":5.6},{"c":18,"T":0.38,"S":5},{"c":18,"T":0.42,"S":4.5},{"c":18,"T":0.46,"S":4.1},{"c":18,"T":0.5,"S":3.8},{"c":18,"T":0.55,"S":3.5},{"c":18,"T":0.6,"S":3.2},{"c":18,"T":0.65,"S":2.95},{"c":18,"T":0.7,"S":2.7},{"c":18,"T":0.75,"S":2.5},{"c":18,"T":0.8,"S":2.35},{"c":18,"T":0.86,"S":2.2},{"c":18,"T":0.93,"S":2.05},{"c":18,"T":1,"S":1.95},{"c":18,"T":1.1,"S":1.8},{"c":18,"T":1.2,"S":1.65},{"c":18,"T":1.35,"S":1.45},{"c":18,"T":1.5,"S":1.25},{"c":18,"T":1.65,"S":1.05},{"c":18,"T":1.8,"S":0.85},{"c":18,"T":2,"S":0.68}
],
"avgA": [
{"T":0,"S":2.6},{"T":0.02,"S":3.4},{"T":0.05,"S":5.2},{"T":0.08,"S":6.8},{"T":0.1,"S":7.6},{"T":0.14,"S":8.2},{"T":0.18,"S":7.8},{"T":0.21,"S":7.1},{"T":0.23,"S":6.6},{"T":0.26,"S":6.5},{"T":0.28,"S":6.65},{"T":0.31,"S":6.45},{"T":0.35,"S":5.85},{"T":0.4,"S":5.25},{"T":0.5,"S":4.45},{"T":0.6,"S":3.85},{"T":0.7,"S":3.38},{"T":0.8,"S":3},{"T":0.9,"S":2.7},{"T":1,"S":2.46},{"T":1.2,"S":2.06},{"T":1.4,"S":1.76},{"T":1.6,"S":1.53},{"T":1.8,"S":1.35},{"T":2,"S":1.2},{"T":2.25,"S":1.03},{"T":2.5,"S":0.9},{"T":2.75,"S":0.74},{"T":3,"S":0.62},{"T":3.5,"S":0.46},{"T":4,"S":0.35},{"T":4.5,"S":0.27},{"T":5.2,"S":0.2}
],
"avgB": [
{"T":0,"S":2.6},{"T":0.03,"S":3.3},{"T":0.06,"S":4.2},{"T":0.09,"S":5.1},{"T":0.12,"S":5.9},{"T":0.14,"S":6.5},{"T":0.157,"S":6.82},{"T":0.17,"S":6.7},{"T":0.185,"S":6.5},{"T":0.2,"S":6.48},{"T":0.22,"S":6.42},{"T":0.235,"S":6.1},{"T":0.25,"S":6},{"T":0.27,"S":6},{"T":0.285,"S":6.12},{"T":0.295,"S":6.2},{"T":0.31,"S":6.05},{"T":0.325,"S":5.9},{"T":0.345,"S":5.6},{"T":0.36,"S":5.34},{"T":0.39,"S":4.9},{"T":0.42,"S":4.56},{"T":0.46,"S":4.2},{"T":0.49,"S":3.98},{"T":0.52,"S":3.88},{"T":0.56,"S":3.84},{"T":0.59,"S":3.81},{"T":0.63,"S":3.58},{"T":0.68,"S":3.38},{"T":0.74,"S":3.12},{"T":0.8,"S":2.88},{"T":0.87,"S":2.6},{"T":0.95,"S":2.35},{"T":1,"S":2.2},{"T":1.1,"S":1.98},{"T":1.2,"S":1.8},{"T":1.35,"S":1.58},{"T":1.5,"S":1.4},{"T":1.65,"S":1.25},{"T":1.8,"S":1.12},{"T":2,"S":0.96}
],
"uhs": [
{"T":0,"S":2.42},{"T":0.115,"S":6.05},{"T":0.34,"S":6.05},{"T":0.4,"S":5.15},{"T":0.5,"S":4.1},{"T":0.6,"S":3.5},{"T":0.7,"S":3.05},{"T":0.8,"S":2.7},{"T":0.9,"S":2.43},{"T":1,"S":2.22},{"T":1.2,"S":1.87},{"T":1.4,"S":1.6},{"T":1.6,"S":1.4},{"T":1.8,"S":1.25},{"T":2,"S":1.12},{"T":2.25,"S":0.98},{"T":2.5,"S":0.86},{"T":2.75,"S":0.73},{"T":3,"S":0.62},{"T":3.5,"S":0.46},{"T":4,"S":0.35},{"T":4.5,"S":0.27},{"T":5.2,"S":0.2}
],
"limA": [
{"k":1,"T":0,"S":2.66},{"k":1,"T":0.11,"S":6.65},{"k":1,"T":0.35,"S":6.65},{"k":1,"T":0.4,"S":5.7},{"k":1,"T":0.5,"S":4.55},{"k":1,"T":0.6,"S":3.87},{"k":1,"T":0.7,"S":3.37},{"k":1,"T":0.8,"S":2.97},{"k":1,"T":0.9,"S":2.66},{"k":1,"T":1,"S":2.42},{"k":1,"T":1.2,"S":2.02},{"k":1,"T":1.4,"S":1.72},{"k":1,"T":1.6,"S":1.5},{"k":1,"T":1.8,"S":1.32},{"k":1,"T":2,"S":1.18},{"k":1,"T":2.25,"S":1.02},{"k":1,"T":2.59,"S":0.83},{"k":1,"T":3,"S":0.6},{"k":1,"T":3.5,"S":0.44},{"k":1,"T":4,"S":0.34},{"k":1,"T":4.5,"S":0.26},{"k":1,"T":5.2,"S":0.19},
{"k":2,"T":0,"S":2.18},{"k":2,"T":0.125,"S":5.45},{"k":2,"T":0.34,"S":5.45},{"k":2,"T":0.4,"S":4.65},{"k":2,"T":0.5,"S":3.7},{"k":2,"T":0.6,"S":3.16},{"k":2,"T":0.7,"S":2.76},{"k":2,"T":0.8,"S":2.45},{"k":2,"T":0.9,"S":2.2},{"k":2,"T":1,"S":2},{"k":2,"T":1.2,"S":1.7},{"k":2,"T":1.4,"S":1.46},{"k":2,"T":1.6,"S":1.29},{"k":2,"T":1.8,"S":1.14},{"k":2,"T":2,"S":1.03},{"k":2,"T":2.25,"S":0.93},{"k":2,"T":2.59,"S":0.83},{"k":2,"T":3,"S":0.62},{"k":2,"T":3.5,"S":0.47},{"k":2,"T":4,"S":0.36},{"k":2,"T":4.5,"S":0.28},{"k":2,"T":5.2,"S":0.21}
],
"limB": [
{"k":1,"T":0,"S":2.66},{"k":1,"T":0.11,"S":6.65},{"k":1,"T":0.35,"S":6.65},{"k":1,"T":0.4,"S":5.75},{"k":1,"T":0.5,"S":4.55},{"k":1,"T":0.6,"S":3.85},{"k":1,"T":0.7,"S":3.3},{"k":1,"T":0.8,"S":2.87},{"k":1,"T":0.9,"S":2.52},{"k":1,"T":1,"S":2.22},{"k":1,"T":1.2,"S":1.78},{"k":1,"T":1.4,"S":1.48},{"k":1,"T":1.6,"S":1.28},{"k":1,"T":1.8,"S":1.12},{"k":1,"T":2,"S":0.99},
{"k":2,"T":0,"S":2.18},{"k":2,"T":0.125,"S":5.45},{"k":2,"T":0.34,"S":5.45},{"k":2,"T":0.4,"S":4.6},{"k":2,"T":0.5,"S":3.68},{"k":2,"T":0.6,"S":3.15},{"k":2,"T":0.7,"S":2.78},{"k":2,"T":0.8,"S":2.52},{"k":2,"T":0.9,"S":2.35},{"k":2,"T":1,"S":2.22},{"k":2,"T":1.2,"S":1.93},{"k":2,"T":1.4,"S":1.7},{"k":2,"T":1.6,"S":1.5},{"k":2,"T":1.8,"S":1.34},{"k":2,"T":2,"S":1.21}
],
"rngA": [{"T":0.518},{"T":5.18}],
"rngB": [{"T":0.195},{"T":1.95}]
},
"spacing": 181,
"bounds": "flush",
"resolve": {"scale": {"color": "independent"}},
"hconcat": [
{
  "width": 467, "height": 329,
  "title": {"text": "(a)", "orient": "bottom", "anchor": "end", "frame": "group", "dx": 66, "dy": -17, "offset": 0},
  "resolve": {"scale": {"color": "independent"}},
  "layer": [
    {"data": {"name": "lsrA"}, "mark": {"type": "line", "clip": true, "strokeWidth": 1.5},
     "encoding": {
       "x": {"field": "T", "type": "quantitative", "scale": {"domain": [0, 5.2], "nice": false, "zero": false}, "axis": {"values": [0,1,2,3,4,5], "title": "Period (sec)", "format": "~g"}},
       "y": {"field": "S", "type": "quantitative", "scale": {"domain": [0, 7], "nice": false}, "axis": {"values": [0,1,2,3,4,5,6,7], "title": ["Spectral acceleration", "(m/sec²)"]}},
       "detail": {"field": "c", "type": "nominal"},
       "color": {"datum": "LSR", "type": "nominal", "scale": {"range": ["#8c8c8c"]}, "legend": {"legendY": 2, "symbolStrokeWidth": 1.6}}
     }},
    {"data": {"name": "avgA"}, "mark": {"type": "line", "clip": true, "strokeWidth": 3.8},
     "encoding": {
       "x": {"field": "T", "type": "quantitative", "scale": {"domain": [0, 5.2], "nice": false, "zero": false}},
       "y": {"field": "S", "type": "quantitative", "scale": {"domain": [0, 7], "nice": false}},
       "color": {"datum": "Average Spectrum", "type": "nominal", "scale": {"range": ["#ff0000"]}, "legend": {"legendY": 34, "symbolStrokeWidth": 4}}
     }},
    {"data": {"name": "uhs"}, "mark": {"type": "line", "clip": true, "strokeWidth": 3.2},
     "encoding": {
       "x": {"field": "T", "type": "quantitative", "scale": {"domain": [0, 5.2], "nice": false, "zero": false}},
       "y": {"field": "S", "type": "quantitative", "scale": {"domain": [0, 7], "nice": false}},
       "color": {"datum": "UHS", "type": "nominal", "scale": {"range": ["#000000"]}, "legend": {"legendY": 67, "symbolStrokeWidth": 3.5}}
     }},
    {"data": {"name": "limA"}, "mark": {"type": "line", "clip": true, "strokeWidth": 4, "strokeDash": [12, 7]},
     "encoding": {
       "x": {"field": "T", "type": "quantitative", "scale": {"domain": [0, 5.2], "nice": false, "zero": false}},
       "y": {"field": "S", "type": "quantitative", "scale": {"domain": [0, 7], "nice": false}},
       "detail": {"field": "k", "type": "nominal"},
       "color": {"datum": "Upper/Lower Limit", "type": "nominal", "scale": {"range": ["#000000"]}, "legend": {"legendY": 98, "symbolStrokeWidth": 4, "symbolDash": [12, 7]}}
     }},
    {"data": {"name": "rngA"}, "mark": {"type": "rule", "strokeWidth": 3, "strokeDash": [3, 5.5]},
     "encoding": {
       "x": {"field": "T", "type": "quantitative", "scale": {"domain": [0, 5.2], "nice": false, "zero": false}},
       "color": {"datum": "Spectrum-compatibility range", "type": "nominal", "scale": {"range": ["#000000"]}, "legend": {"legendY": 130, "symbolStrokeWidth": 3, "symbolDash": [3, 5.5]}}
     }}
  ]
},
{
  "width": 459, "height": 329,
  "title": {"text": "(b)", "orient": "bottom", "anchor": "end", "frame": "group", "dx": 65, "dy": -17, "offset": 0},
  "resolve": {"scale": {"color": "independent"}},
  "layer": [
    {"data": {"name": "lsrB"}, "mark": {"type": "line", "clip": true, "strokeWidth": 1.5},
     "encoding": {
       "x": {"field": "T", "type": "quantitative", "scale": {"domain": [0, 2], "nice": false, "zero": false}, "axis": {"values": [0,0.5,1,1.5,2], "title": "Period (sec)", "format": "~g"}},
       "y": {"field": "S", "type": "quantitative", "scale": {"domain": [0, 7], "nice": false}, "axis": {"values": [0,1,2,3,4,5,6,7], "title": ["Spectral acceleration", "(m/sec²)"]}},
       "detail": {"field": "c", "type": "nominal"},
       "color": {"datum": "LSR", "type": "nominal", "scale": {"range": ["#8c8c8c"]}, "legend": null}
     }},
    {"data": {"name": "avgB"}, "mark": {"type": "line", "clip": true, "strokeWidth": 3.8},
     "encoding": {
       "x": {"field": "T", "type": "quantitative", "scale": {"domain": [0, 2], "nice": false, "zero": false}},
       "y": {"field": "S", "type": "quantitative", "scale": {"domain": [0, 7], "nice": false}},
       "color": {"datum": "Average Spectrum", "type": "nominal", "scale": {"range": ["#ff0000"]}, "legend": null}
     }},
    {"data": {"name": "uhs"}, "mark": {"type": "line", "clip": true, "strokeWidth": 3.2},
     "encoding": {
       "x": {"field": "T", "type": "quantitative", "scale": {"domain": [0, 2], "nice": false, "zero": false}},
       "y": {"field": "S", "type": "quantitative", "scale": {"domain": [0, 7], "nice": false}},
       "color": {"datum": "UHS", "type": "nominal", "scale": {"range": ["#000000"]}, "legend": null}
     }},
    {"data": {"name": "limB"}, "mark": {"type": "line", "clip": true, "strokeWidth": 4, "strokeDash": [12, 7]},
     "encoding": {
       "x": {"field": "T", "type": "quantitative", "scale": {"domain": [0, 2], "nice": false, "zero": false}},
       "y": {"field": "S", "type": "quantitative", "scale": {"domain": [0, 7], "nice": false}},
       "detail": {"field": "k", "type": "nominal"},
       "color": {"datum": "Upper/Lower Limit", "type": "nominal", "scale": {"range": ["#000000"]}, "legend": null}
     }},
    {"data": {"name": "rngB"}, "mark": {"type": "rule", "strokeWidth": 3, "strokeDash": [3, 5.5]},
     "encoding": {
       "x": {"field": "T", "type": "quantitative", "scale": {"domain": [0, 2], "nice": false, "zero": false}},
       "color": {"datum": "Spectrum-compatibility range", "type": "nominal", "scale": {"range": ["#000000"]}, "legend": null}
     }}
  ]
}
]
}
